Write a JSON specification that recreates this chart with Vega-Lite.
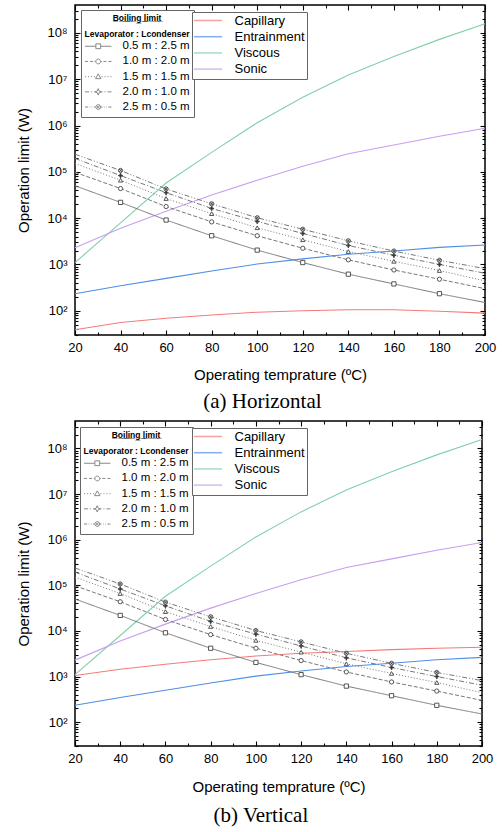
{
  "$schema": "https://vega.github.io/schema/vega-lite/v6.json",
  "padding": {"left": 16, "top": 3, "right": 4, "bottom": 2},
  "background": "white",
  "spacing": 6,
  "resolve": {"scale": {"color": "independent", "shape": "independent", "fill": "independent", "strokeDash": "independent"}, "legend": {"color": "independent", "shape": "independent"}},
  "datasets": {
    "limits_a": [
      {"T":20,"s":"Capillary","v":39},{"T":40,"s":"Capillary","v":56},{"T":60,"s":"Capillary","v":69},{"T":80,"s":"Capillary","v":81},{"T":100,"s":"Capillary","v":93},{"T":120,"s":"Capillary","v":100},{"T":140,"s":"Capillary","v":105},{"T":160,"s":"Capillary","v":105},{"T":180,"s":"Capillary","v":98},{"T":200,"s":"Capillary","v":89},
      {"T":20,"s":"Entrainment","v":234},{"T":40,"s":"Entrainment","v":347},{"T":60,"s":"Entrainment","v":500},{"T":80,"s":"Entrainment","v":724},{"T":100,"s":"Entrainment","v":1020},{"T":120,"s":"Entrainment","v":1320},{"T":140,"s":"Entrainment","v":1660},{"T":160,"s":"Entrainment","v":1950},{"T":180,"s":"Entrainment","v":2340},{"T":200,"s":"Entrainment","v":2630},
      {"T":20,"s":"Viscous","v":1100},{"T":40,"s":"Viscous","v":7940},{"T":60,"s":"Viscous","v":57500},{"T":80,"s":"Viscous","v":263000},{"T":100,"s":"Viscous","v":1150000},{"T":120,"s":"Viscous","v":4070000},{"T":140,"s":"Viscous","v":12300000},{"T":160,"s":"Viscous","v":30900000},{"T":180,"s":"Viscous","v":72400000},{"T":200,"s":"Viscous","v":158000000},
      {"T":20,"s":"Sonic","v":2290},{"T":40,"s":"Sonic","v":6030},{"T":60,"s":"Sonic","v":14100},{"T":80,"s":"Sonic","v":31600},{"T":100,"s":"Sonic","v":66100},{"T":120,"s":"Sonic","v":132000},{"T":140,"s":"Sonic","v":245000},{"T":160,"s":"Sonic","v":380000},{"T":180,"s":"Sonic","v":589000},{"T":200,"s":"Sonic","v":871000}
    ],
    "limits_b": [
      {"T":20,"s":"Capillary","v":1050},{"T":40,"s":"Capillary","v":1450},{"T":60,"s":"Capillary","v":1860},{"T":80,"s":"Capillary","v":2340},{"T":100,"s":"Capillary","v":2820},{"T":120,"s":"Capillary","v":3240},{"T":140,"s":"Capillary","v":3550},{"T":160,"s":"Capillary","v":3890},{"T":180,"s":"Capillary","v":4170},{"T":200,"s":"Capillary","v":4370},
      {"T":20,"s":"Entrainment","v":234},{"T":40,"s":"Entrainment","v":347},{"T":60,"s":"Entrainment","v":500},{"T":80,"s":"Entrainment","v":724},{"T":100,"s":"Entrainment","v":1020},{"T":120,"s":"Entrainment","v":1320},{"T":140,"s":"Entrainment","v":1660},{"T":160,"s":"Entrainment","v":1950},{"T":180,"s":"Entrainment","v":2340},{"T":200,"s":"Entrainment","v":2630},
      {"T":20,"s":"Viscous","v":1100},{"T":40,"s":"Viscous","v":7940},{"T":60,"s":"Viscous","v":57500},{"T":80,"s":"Viscous","v":263000},{"T":100,"s":"Viscous","v":1150000},{"T":120,"s":"Viscous","v":4070000},{"T":140,"s":"Viscous","v":12300000},{"T":160,"s":"Viscous","v":30900000},{"T":180,"s":"Viscous","v":72400000},{"T":200,"s":"Viscous","v":158000000},
      {"T":20,"s":"Sonic","v":2290},{"T":40,"s":"Sonic","v":6030},{"T":60,"s":"Sonic","v":14100},{"T":80,"s":"Sonic","v":31600},{"T":100,"s":"Sonic","v":66100},{"T":120,"s":"Sonic","v":132000},{"T":140,"s":"Sonic","v":245000},{"T":160,"s":"Sonic","v":380000},{"T":180,"s":"Sonic","v":589000},{"T":200,"s":"Sonic","v":871000}
    ],
    "boiling": [
      {"T":20,"c":"0.5 m : 2.5 m","v":50000},{"T":40,"c":"0.5 m : 2.5 m","v":21900},{"T":60,"c":"0.5 m : 2.5 m","v":9100},{"T":80,"c":"0.5 m : 2.5 m","v":4170},{"T":100,"c":"0.5 m : 2.5 m","v":2040},{"T":120,"c":"0.5 m : 2.5 m","v":1100},{"T":140,"c":"0.5 m : 2.5 m","v":617},{"T":160,"c":"0.5 m : 2.5 m","v":380},{"T":180,"c":"0.5 m : 2.5 m","v":234},{"T":200,"c":"0.5 m : 2.5 m","v":151},
      {"T":20,"c":"1.0 m : 2.0 m","v":97700},{"T":40,"c":"1.0 m : 2.0 m","v":43600},{"T":60,"c":"1.0 m : 2.0 m","v":17800},{"T":80,"c":"1.0 m : 2.0 m","v":8300},{"T":100,"c":"1.0 m : 2.0 m","v":4170},{"T":120,"c":"1.0 m : 2.0 m","v":2240},{"T":140,"c":"1.0 m : 2.0 m","v":1260},{"T":160,"c":"1.0 m : 2.0 m","v":760},{"T":180,"c":"1.0 m : 2.0 m","v":480},{"T":200,"c":"1.0 m : 2.0 m","v":300},
      {"T":20,"c":"1.5 m : 1.5 m","v":151000},{"T":40,"c":"1.5 m : 1.5 m","v":66000},{"T":60,"c":"1.5 m : 1.5 m","v":26500},{"T":80,"c":"1.5 m : 1.5 m","v":12500},{"T":100,"c":"1.5 m : 1.5 m","v":6200},{"T":120,"c":"1.5 m : 1.5 m","v":3420},{"T":140,"c":"1.5 m : 1.5 m","v":1900},{"T":160,"c":"1.5 m : 1.5 m","v":1170},{"T":180,"c":"1.5 m : 1.5 m","v":740},{"T":200,"c":"1.5 m : 1.5 m","v":442},
      {"T":20,"c":"2.0 m : 1.0 m","v":195000},{"T":40,"c":"2.0 m : 1.0 m","v":83000},{"T":60,"c":"2.0 m : 1.0 m","v":35500},{"T":80,"c":"2.0 m : 1.0 m","v":16200},{"T":100,"c":"2.0 m : 1.0 m","v":8500},{"T":120,"c":"2.0 m : 1.0 m","v":4680},{"T":140,"c":"2.0 m : 1.0 m","v":2570},{"T":160,"c":"2.0 m : 1.0 m","v":1580},{"T":180,"c":"2.0 m : 1.0 m","v":1000},{"T":200,"c":"2.0 m : 1.0 m","v":645},
      {"T":20,"c":"2.5 m : 0.5 m","v":240000},{"T":40,"c":"2.5 m : 0.5 m","v":107000},{"T":60,"c":"2.5 m : 0.5 m","v":42700},{"T":80,"c":"2.5 m : 0.5 m","v":20400},{"T":100,"c":"2.5 m : 0.5 m","v":10200},{"T":120,"c":"2.5 m : 0.5 m","v":5750},{"T":140,"c":"2.5 m : 0.5 m","v":3240},{"T":160,"c":"2.5 m : 0.5 m","v":1950},{"T":180,"c":"2.5 m : 0.5 m","v":1230},{"T":200,"c":"2.5 m : 0.5 m","v":813}
    ]
  },
  "vconcat": [
    {
      "width": 410,
      "height": 330,
      "title": {"text": "(a) Horizontal", "orient": "bottom", "anchor": "middle", "frame": "bounds", "font": "Liberation Serif", "fontSize": 21, "fontWeight": "normal", "color": "#000", "offset": 9, "dx": 6},
      "resolve": {"scale": {"shape": "independent", "color": "independent"}, "legend": {"color": "independent", "shape": "independent"}, "axis": {"x": "independent", "y": "independent"}},
      "layer": [
        {
          "data": {"name": "limits_a"},
          "mark": {"type": "line", "strokeWidth": 1.1},
          "encoding": {
            "x": {"field": "T", "type": "quantitative", "scale": {"domain": [20, 200], "nice": false, "zero": false},
                  "axis": {"orient": "bottom", "values": [20,40,60,80,100,120,140,160,180,200], "title": "Operating temprature (ºC)", "tickSize": -5, "labelPadding": 11, "titlePadding": 13}},
            "y": {"field": "v", "type": "quantitative", "scale": {"type": "log", "domain": [30, 400000000], "nice": false},
                  "axis": {"orient": "left", "values": [100,1000,10000,100000,1000000,10000000,100000000], "labelExpr": "'10' + ['⁰','¹','²','³','⁴','⁵','⁶','⁷','⁸'][round(log(datum.value)/LN10)]", "title": "Operation limit (W)", "tickSize": -5, "labelPadding": 13, "titlePadding": 15}},
            "color": {"field": "s", "type": "nominal",
                      "scale": {"domain": ["Capillary","Entrainment","Viscous","Sonic"], "range": ["#f47a7a","#4f8ee6","#80d0a8","#c79ef0"]},
                      "legend": null}
          }
        },
        {
          "data": {"name": "boiling"},
          "mark": {"type": "line", "color": "#777", "strokeWidth": 1},
          "encoding": {
            "x": {"field": "T", "type": "quantitative", "scale": {"domain": [20, 200], "nice": false, "zero": false},
                  "axis": {"orient": "top", "values": [20,40,60,80,100,120,140,160,180,200], "labels": false, "title": null, "tickSize": -5}},
            "y": {"field": "v", "type": "quantitative", "scale": {"type": "log", "domain": [30, 400000000], "nice": false},
                  "axis": {"orient": "right", "values": [100,1000,10000,100000,1000000,10000000,100000000], "labels": false, "title": null, "tickSize": -5}},
            "strokeDash": {"field": "c", "type": "nominal", "scale": {"domain": ["0.5 m : 2.5 m","1.0 m : 2.0 m","1.5 m : 1.5 m","2.0 m : 1.0 m","2.5 m : 0.5 m"], "range": [[1,0],[4,2],[1,2],[5,2,1,2],[5,2,1,2,1,2]]}, "legend": null}
          }
        },
        {
          "data": {"name": "boiling"},
          "transform": [{"filter": "datum.T >= 40 && datum.T <= 180"}],
          "mark": {"type": "point", "filled": true, "stroke": "#444", "strokeWidth": 0.9, "size": 18, "opacity": 1},
          "encoding": {
            "x": {"field": "T", "type": "quantitative", "scale": {"domain": [20, 200], "nice": false, "zero": false},
                  "axis": {"orient": "bottom", "values": [30,50,70,90,110,130,150,170,190], "labels": false, "title": null, "tickSize": -3}},
            "y": {"field": "v", "type": "quantitative", "scale": {"type": "log", "domain": [30, 400000000], "nice": false},
                  "axis": {"orient": "left", "values": [30,40,50,60,70,80,90,200,300,400,500,600,700,800,900,2000,3000,4000,5000,6000,7000,8000,9000,20000,30000,40000,50000,60000,70000,80000,90000,200000,300000,400000,500000,600000,700000,800000,900000,2000000,3000000,4000000,5000000,6000000,7000000,8000000,9000000,20000000,30000000,40000000,50000000,60000000,70000000,80000000,90000000,200000000,300000000], "labels": false, "title": null, "tickSize": -3}},
            "shape": {"field": "c", "type": "nominal", "scale": {"domain": ["0.5 m : 2.5 m","1.0 m : 2.0 m","1.5 m : 1.5 m","2.0 m : 1.0 m","2.5 m : 0.5 m"], "range": ["square","circle","triangle-up","M0,-1.2L0.3,-0.3L1.1,0L0.3,0.3L0,1.2L-0.3,0.3L-1.1,0L-0.3,-0.3Z","M-1,0A1,1,0,1,1,1,0A1,1,0,1,1,-1,0ZM-0.7,-0.7L0.7,0.7M-0.7,0.7L0.7,-0.7"]}, "legend": null},
            "fill": {"field": "c", "type": "nominal", "scale": {"domain": ["0.5 m : 2.5 m","1.0 m : 2.0 m","1.5 m : 1.5 m","2.0 m : 1.0 m","2.5 m : 0.5 m"], "range": ["#fff","#fff","#fff","#333","#ccc"]}, "legend": null}
          }
        },
        {
          "data": {"name": "boiling"},
          "transform": [{"filter": "false"}],
          "mark": {"type": "point", "filled": true, "fill": "#fff", "stroke": "#555", "strokeWidth": 1, "size": 16},
          "encoding": {
            "x": {"field": "T", "type": "quantitative", "scale": {"domain": [20, 200], "nice": false, "zero": false},
                  "axis": {"orient": "top", "values": [30,50,70,90,110,130,150,170,190], "labels": false, "title": null, "tickSize": -3}},
            "y": {"field": "v", "type": "quantitative", "scale": {"type": "log", "domain": [30, 400000000], "nice": false},
                  "axis": {"orient": "right", "values": [30,40,50,60,70,80,90,200,300,400,500,600,700,800,900,2000,3000,4000,5000,6000,7000,8000,9000,20000,30000,40000,50000,60000,70000,80000,90000,200000,300000,400000,500000,600000,700000,800000,900000,2000000,3000000,4000000,5000000,6000000,7000000,8000000,9000000,20000000,30000000,40000000,50000000,60000000,70000000,80000000,90000000,200000000,300000000], "labels": false, "title": null, "tickSize": -3}},
            "shape": {"field": "c", "type": "nominal",
                      "scale": {"domain": ["0.5 m : 2.5 m","1.0 m : 2.0 m","1.5 m : 1.5 m","2.0 m : 1.0 m","2.5 m : 0.5 m"],
                                "range": [
                                  "M-6.6,0H-1.3M1.3,0H6.6M-1.2,-1.2H1.2V1.2H-1.2Z",
                                  "M-6.6,0H-5.1M-4.1,0H-2.6M-1.8,0H-1.3M1.3,0H1.8M2.6,0H4.1M5.1,0H6.6M-1.2,0A1.2,1.2,0,1,1,1.2,0A1.2,1.2,0,1,1,-1.2,0Z",
                                  "M-6.6,0H-6.1M-5.1,0H-4.6M-3.6,0H-3.1M-2.1,0H-1.6M1.6,0H2.1M3.1,0H3.6M4.6,0H5.1M6.1,0H6.6M0,-1.4L1.35,1H-1.35Z",
                                  "M-6.6,0H-4.6M-3.6,0H-3.1M-2.1,0H-1.4M1.4,0H2.1M3.1,0H3.6M4.6,0H6.6M0,-1.6L0.45,-0.45L1.6,0L0.45,0.45L0,1.6L-0.45,0.45L-1.6,0L-0.45,-0.45Z",
                                  "M-6.6,0H-5.1M-4.3,0H-4M-3.2,0H-2.9M-2.1,0H-1.3M1.3,0H2.1M2.9,0H3.2M4,0H4.3M5.1,0H6.6M-1.2,0A1.2,1.2,0,1,1,1.2,0A1.2,1.2,0,1,1,-1.2,0ZM-0.85,-0.85L0.85,0.85M-0.85,0.85L0.85,-0.85"
                                ]},
                      "legend": {"orient": "none", "legendX": 6, "legendY": 5, "title": ["B̲o̲i̲l̲i̲n̲g̲ ̲l̲i̲m̲i̲t̲", "Levaporator : Lcondenser"], "titleFontSize": 8.5, "titleFontWeight": "bold", "titleColor": "#000", "titleAlign": "center", "titleAnchor": "middle", "titleLineHeight": 16, "titlePadding": 2, "titleLimit": 300, "symbolSize": 16, "symbolStrokeWidth": 1, "symbolOffset": 7.5, "labelOffset": 18.5, "labelFontSize": 11.5, "labelColor": "#000", "rowPadding": 2.2, "padding": 4, "strokeColor": "#666", "fillColor": "white", "labelLimit": 200}}
          }
        },
        {
          "data": {"name": "limits_a"},
          "transform": [{"filter": "false"}],
          "mark": {"type": "point", "filled": false, "strokeWidth": 1.5, "size": 16, "shape": "M-7,0H7"},
          "encoding": {
            "x": {"field": "T", "type": "quantitative", "scale": {"domain": [20, 200], "nice": false, "zero": false}, "axis": null},
            "y": {"field": "v", "type": "quantitative", "scale": {"type": "log", "domain": [30, 400000000], "nice": false}, "axis": null},
            "color": {"field": "s", "type": "nominal",
                      "scale": {"domain": ["Capillary","Entrainment","Viscous","Sonic"], "range": ["#f47a7a","#4f8ee6","#80d0a8","#c79ef0"]},
                      "legend": {"orient": "none", "legendX": 117, "legendY": 7, "title": null, "symbolType": "M-7,0H7", "symbolSize": 16, "symbolStrokeWidth": 1.5, "symbolOffset": 7.5, "labelOffset": 20, "labelFontSize": 13, "labelColor": "#000", "rowPadding": 2.2, "padding": 2, "strokeColor": "#666", "fillColor": "white", "labelLimit": 200}}
          }
        }
      ]
    },
    {
      "width": 407,
      "height": 325,
      "title": {"text": "(b) Vertical", "orient": "bottom", "anchor": "middle", "frame": "bounds", "font": "Liberation Serif", "fontSize": 21, "fontWeight": "normal", "color": "#000", "offset": 11, "dx": 6},
      "resolve": {"scale": {"shape": "independent", "color": "independent"}, "legend": {"color": "independent", "shape": "independent"}, "axis": {"x": "independent", "y": "independent"}},
      "layer": [
        {
          "data": {"name": "limits_b"},
          "mark": {"type": "line", "strokeWidth": 1.1},
          "encoding": {
            "x": {"field": "T", "type": "quantitative", "scale": {"domain": [20, 200], "nice": false, "zero": false},
                  "axis": {"orient": "bottom", "values": [20,40,60,80,100,120,140,160,180,200], "title": "Operating temprature (ºC)", "tickSize": -5, "labelPadding": 11, "titlePadding": 14}},
            "y": {"field": "v", "type": "quantitative", "scale": {"type": "log", "domain": [30, 400000000], "nice": false},
                  "axis": {"orient": "left", "values": [100,1000,10000,100000,1000000,10000000,100000000], "labelExpr": "'10' + ['⁰','¹','²','³','⁴','⁵','⁶','⁷','⁸'][round(log(datum.value)/LN10)]", "title": "Operation limit (W)", "tickSize": -5, "labelPadding": 13, "titlePadding": 15}},
            "color": {"field": "s", "type": "nominal",
                      "scale": {"domain": ["Capillary","Entrainment","Viscous","Sonic"], "range": ["#f47a7a","#4f8ee6","#80d0a8","#c79ef0"]},
                      "legend": null}
          }
        },
        {
          "data": {"name": "boiling"},
          "mark": {"type": "line", "color": "#777", "strokeWidth": 1},
          "encoding": {
            "x": {"field": "T", "type": "quantitative", "scale": {"domain": [20, 200], "nice": false, "zero": false},
                  "axis": {"orient": "top", "values": [20,40,60,80,100,120,140,160,180,200], "labels": false, "title": null, "tickSize": -5}},
            "y": {"field": "v", "type": "quantitative", "scale": {"type": "log", "domain": [30, 400000000], "nice": false},
                  "axis": {"orient": "right", "values": [100,1000,10000,100000,1000000,10000000,100000000], "labels": false, "title": null, "tickSize": -5}},
            "strokeDash": {"field": "c", "type": "nominal", "scale": {"domain": ["0.5 m : 2.5 m","1.0 m : 2.0 m","1.5 m : 1.5 m","2.0 m : 1.0 m","2.5 m : 0.5 m"], "range": [[1,0],[4,2],[1,2],[5,2,1,2],[5,2,1,2,1,2]]}, "legend": null}
          }
        },
        {
          "data": {"name": "boiling"},
          "transform": [{"filter": "datum.T >= 40 && datum.T <= 180"}],
          "mark": {"type": "point", "filled": true, "stroke": "#444", "strokeWidth": 0.9, "size": 18, "opacity": 1},
          "encoding": {
            "x": {"field": "T", "type": "quantitative", "scale": {"domain": [20, 200], "nice": false, "zero": false},
                  "axis": {"orient": "bottom", "values": [30,50,70,90,110,130,150,170,190], "labels": false, "title": null, "tickSize": -3}},
            "y": {"field": "v", "type": "quantitative", "scale": {"type": "log", "domain": [30, 400000000], "nice": false},
                  "axis": {"orient": "left", "values": [30,40,50,60,70,80,90,200,300,400,500,600,700,800,900,2000,3000,4000,5000,6000,7000,8000,9000,20000,30000,40000,50000,60000,70000,80000,90000,200000,300000,400000,500000,600000,700000,800000,900000,2000000,3000000,4000000,5000000,6000000,7000000,8000000,9000000,20000000,30000000,40000000,50000000,60000000,70000000,80000000,90000000,200000000,300000000], "labels": false, "title": null, "tickSize": -3}},
            "shape": {"field": "c", "type": "nominal", "scale": {"domain": ["0.5 m : 2.5 m","1.0 m : 2.0 m","1.5 m : 1.5 m","2.0 m : 1.0 m","2.5 m : 0.5 m"], "range": ["square","circle","triangle-up","M0,-1.2L0.3,-0.3L1.1,0L0.3,0.3L0,1.2L-0.3,0.3L-1.1,0L-0.3,-0.3Z","M-1,0A1,1,0,1,1,1,0A1,1,0,1,1,-1,0ZM-0.7,-0.7L0.7,0.7M-0.7,0.7L0.7,-0.7"]}, "legend": null},
            "fill": {"field": "c", "type": "nominal", "scale": {"domain": ["0.5 m : 2.5 m","1.0 m : 2.0 m","1.5 m : 1.5 m","2.0 m : 1.0 m","2.5 m : 0.5 m"], "range": ["#fff","#fff","#fff","#333","#ccc"]}, "legend": null}
          }
        },
        {
          "data": {"name": "boiling"},
          "transform": [{"filter": "false"}],
          "mark": {"type": "point", "filled": true, "fill": "#fff", "stroke": "#555", "strokeWidth": 1, "size": 16},
          "encoding": {
            "x": {"field": "T", "type": "quantitative", "scale": {"domain": [20, 200], "nice": false, "zero": false},
                  "axis": {"orient": "top", "values": [30,50,70,90,110,130,150,170,190], "labels": false, "title": null, "tickSize": -3}},
            "y": {"field": "v", "type": "quantitative", "scale": {"type": "log", "domain": [30, 400000000], "nice": false},
                  "axis": {"orient": "right", "values": [30,40,50,60,70,80,90,200,300,400,500,600,700,800,900,2000,3000,4000,5000,6000,7000,8000,9000,20000,30000,40000,50000,60000,70000,80000,90000,200000,300000,400000,500000,600000,700000,800000,900000,2000000,3000000,4000000,5000000,6000000,7000000,8000000,9000000,20000000,30000000,40000000,50000000,60000000,70000000,80000000,90000000,200000000,300000000], "labels": false, "title": null, "tickSize": -3}},
            "shape": {"field": "c", "type": "nominal",
                      "scale": {"domain": ["0.5 m : 2.5 m","1.0 m : 2.0 m","1.5 m : 1.5 m","2.0 m : 1.0 m","2.5 m : 0.5 m"],
                                "range": [
                                  "M-6.6,0H-1.3M1.3,0H6.6M-1.2,-1.2H1.2V1.2H-1.2Z",
                                  "M-6.6,0H-5.1M-4.1,0H-2.6M-1.8,0H-1.3M1.3,0H1.8M2.6,0H4.1M5.1,0H6.6M-1.2,0A1.2,1.2,0,1,1,1.2,0A1.2,1.2,0,1,1,-1.2,0Z",
                                  "M-6.6,0H-6.1M-5.1,0H-4.6M-3.6,0H-3.1M-2.1,0H-1.6M1.6,0H2.1M3.1,0H3.6M4.6,0H5.1M6.1,0H6.6M0,-1.4L1.35,1H-1.35Z",
                                  "M-6.6,0H-4.6M-3.6,0H-3.1M-2.1,0H-1.4M1.4,0H2.1M3.1,0H3.6M4.6,0H6.6M0,-1.6L0.45,-0.45L1.6,0L0.45,0.45L0,1.6L-0.45,0.45L-1.6,0L-0.45,-0.45Z",
                                  "M-6.6,0H-5.1M-4.3,0H-4M-3.2,0H-2.9M-2.1,0H-1.3M1.3,0H2.1M2.9,0H3.2M4,0H4.3M5.1,0H6.6M-1.2,0A1.2,1.2,0,1,1,1.2,0A1.2,1.2,0,1,1,-1.2,0ZM-0.85,-0.85L0.85,0.85M-0.85,0.85L0.85,-0.85"
                                ]},
                      "legend": {"orient": "none", "legendX": 5, "legendY": 6, "title": ["B̲o̲i̲l̲i̲n̲g̲ ̲l̲i̲m̲i̲t̲", "Levaporator : Lcondenser"], "titleFontSize": 8.5, "titleFontWeight": "bold", "titleColor": "#000", "titleAlign": "center", "titleAnchor": "middle", "titleLineHeight": 16, "titlePadding": 2, "titleLimit": 300, "symbolSize": 16, "symbolStrokeWidth": 1, "symbolOffset": 7.5, "labelOffset": 18.5, "labelFontSize": 11.5, "labelColor": "#000", "rowPadding": 2.2, "padding": 4, "strokeColor": "#666", "fillColor": "white", "labelLimit": 200}}
          }
        },
        {
          "data": {"name": "limits_b"},
          "transform": [{"filter": "false"}],
          "mark": {"type": "point", "filled": false, "strokeWidth": 1.5, "size": 16, "shape": "M-7,0H7"},
          "encoding": {
            "x": {"field": "T", "type": "quantitative", "scale": {"domain": [20, 200], "nice": false, "zero": false}, "axis": null},
            "y": {"field": "v", "type": "quantitative", "scale": {"type": "log", "domain": [30, 400000000], "nice": false}, "axis": null},
            "color": {"field": "s", "type": "nominal",
                      "scale": {"domain": ["Capillary","Entrainment","Viscous","Sonic"], "range": ["#f47a7a","#4f8ee6","#80d0a8","#c79ef0"]},
                      "legend": {"orient": "none", "legendX": 117, "legendY": 7, "title": null, "symbolType": "M-7,0H7", "symbolSize": 16, "symbolStrokeWidth": 1.5, "symbolOffset": 7.5, "labelOffset": 20, "labelFontSize": 13, "labelColor": "#000", "rowPadding": 2.2, "padding": 2, "strokeColor": "#666", "fillColor": "white", "labelLimit": 200}}
          }
        }
      ]
    }
  ],
  "config": {
    "font": "Liberation Sans",
    "view": {"stroke": "#000", "strokeWidth": 1.5},
    "axis": {"grid": false, "domain": false, "tickColor": "#000", "tickWidth": 1.1, "labelFont": "Liberation Sans", "labelFontSize": 13, "labelColor": "#000", "labelFlush": false, "labelOverlap": false, "titleFont": "Liberation Sans", "titleFontSize": 15, "titleFontWeight": "normal", "titleColor": "#000"},
    "legend": {"labelFont": "Liberation Sans", "titleFont": "Liberation Sans", "strokeColor": "#666"}
  }
}
